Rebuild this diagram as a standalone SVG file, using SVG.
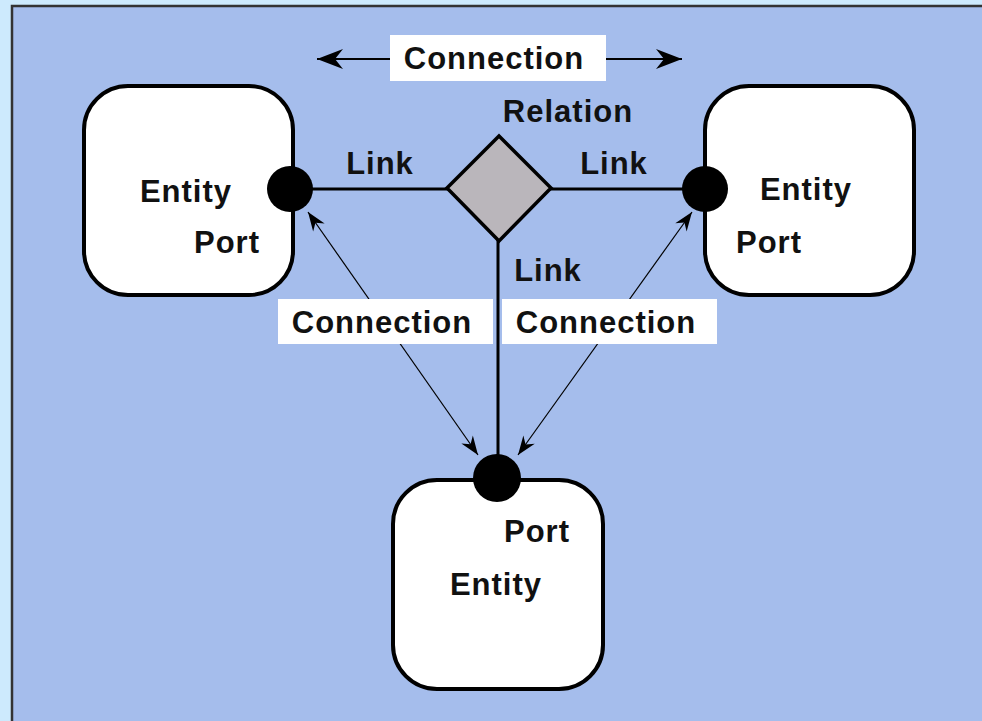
<svg xmlns="http://www.w3.org/2000/svg" width="982" height="721" viewBox="0 0 982 721">
<style>
.t{font-family:"Liberation Sans",Arial,sans-serif;font-weight:bold;font-size:31px;fill:#111;letter-spacing:1px}
.box{fill:#fff;stroke:#000;stroke-width:4}
.port{fill:#000}
.link{stroke:#000;stroke-width:3;fill:none}
.conn{stroke:#000;stroke-width:1.2;fill:none}
.lbl{fill:#fff}
</style>
<defs>
<marker id="ah" viewBox="-26 -11 28 22" refX="0" refY="0" markerWidth="28" markerHeight="22" markerUnits="userSpaceOnUse" orient="auto-start-reverse">
<path d="M0,0 L-26,-10 L-18,0 L-26,10 Z" fill="#000"/>
</marker>
<marker id="ahs" viewBox="-20 -8 22 16" refX="0" refY="0" markerWidth="22" markerHeight="16" markerUnits="userSpaceOnUse" orient="auto-start-reverse">
<path d="M0,0 L-19,-7 L-13,0 L-19,7 Z" fill="#000"/>
</marker>
</defs>
<rect x="0" y="0" width="982" height="721" fill="#cdeafd"/>
<rect x="12" y="6" width="990" height="740" fill="#a5bdec" stroke="#333" stroke-width="2.5"/>
<g id="connectors">
<line class="link" x1="300" y1="189" x2="500" y2="189"/>
<line class="link" x1="500" y1="189" x2="705" y2="189"/>
<line class="link" x1="498" y1="189" x2="498" y2="470"/>
<line class="conn" x1="308" y1="212" x2="478" y2="455" marker-start="url(#ahs)" marker-end="url(#ahs)"/>
<line class="conn" x1="692" y1="212" x2="518" y2="455" marker-start="url(#ahs)" marker-end="url(#ahs)"/>
<line stroke="#000" stroke-width="2" x1="390" y1="59" x2="317" y2="59" marker-end="url(#ah)"/>
<line stroke="#000" stroke-width="2" x1="606" y1="59" x2="682" y2="59" marker-end="url(#ah)"/>
<g id="conn-top"><rect class="lbl" x="390" y="35" width="216" height="46"/><text class="t" x="494" y="69" text-anchor="middle">Connection</text></g>
<g id="conn-left"><rect class="lbl" x="278" y="299" width="215" height="45"/><text class="t" x="382" y="333" text-anchor="middle">Connection</text></g>
<g id="conn-right"><rect class="lbl" x="502" y="299" width="215" height="45"/><text class="t" x="606" y="333" text-anchor="middle">Connection</text></g>
<text class="t" x="380" y="174" text-anchor="middle">Link</text>
<text class="t" x="614" y="174" text-anchor="middle">Link</text>
<text class="t" x="548" y="281" text-anchor="middle">Link</text>
</g>
<g id="relation">
<path d="M447,188 L499,136 L551,188 L499,241 Z" fill="#bab6bb" stroke="#000" stroke-width="3.5"/>
<text class="t" x="568" y="122" text-anchor="middle">Relation</text>
</g>
<g id="entity-left">
<rect class="box" x="84" y="86" width="209" height="209" rx="44"/>
<circle class="port" cx="290" cy="189" r="23"/>
<text class="t" x="186" y="202" text-anchor="middle">Entity</text>
<text class="t" x="227" y="253" text-anchor="middle">Port</text>
</g>
<g id="entity-right">
<rect class="box" x="705" y="86" width="209" height="209" rx="44"/>
<circle class="port" cx="705" cy="189" r="23"/>
<text class="t" x="806" y="200" text-anchor="middle">Entity</text>
<text class="t" x="769" y="253" text-anchor="middle">Port</text>
</g>
<g id="entity-bottom">
<rect class="box" x="393" y="480" width="210" height="209" rx="44"/>
<circle class="port" cx="497" cy="478" r="24"/>
<text class="t" x="537" y="542" text-anchor="middle">Port</text>
<text class="t" x="496" y="595" text-anchor="middle">Entity</text>
</g>
</svg>
